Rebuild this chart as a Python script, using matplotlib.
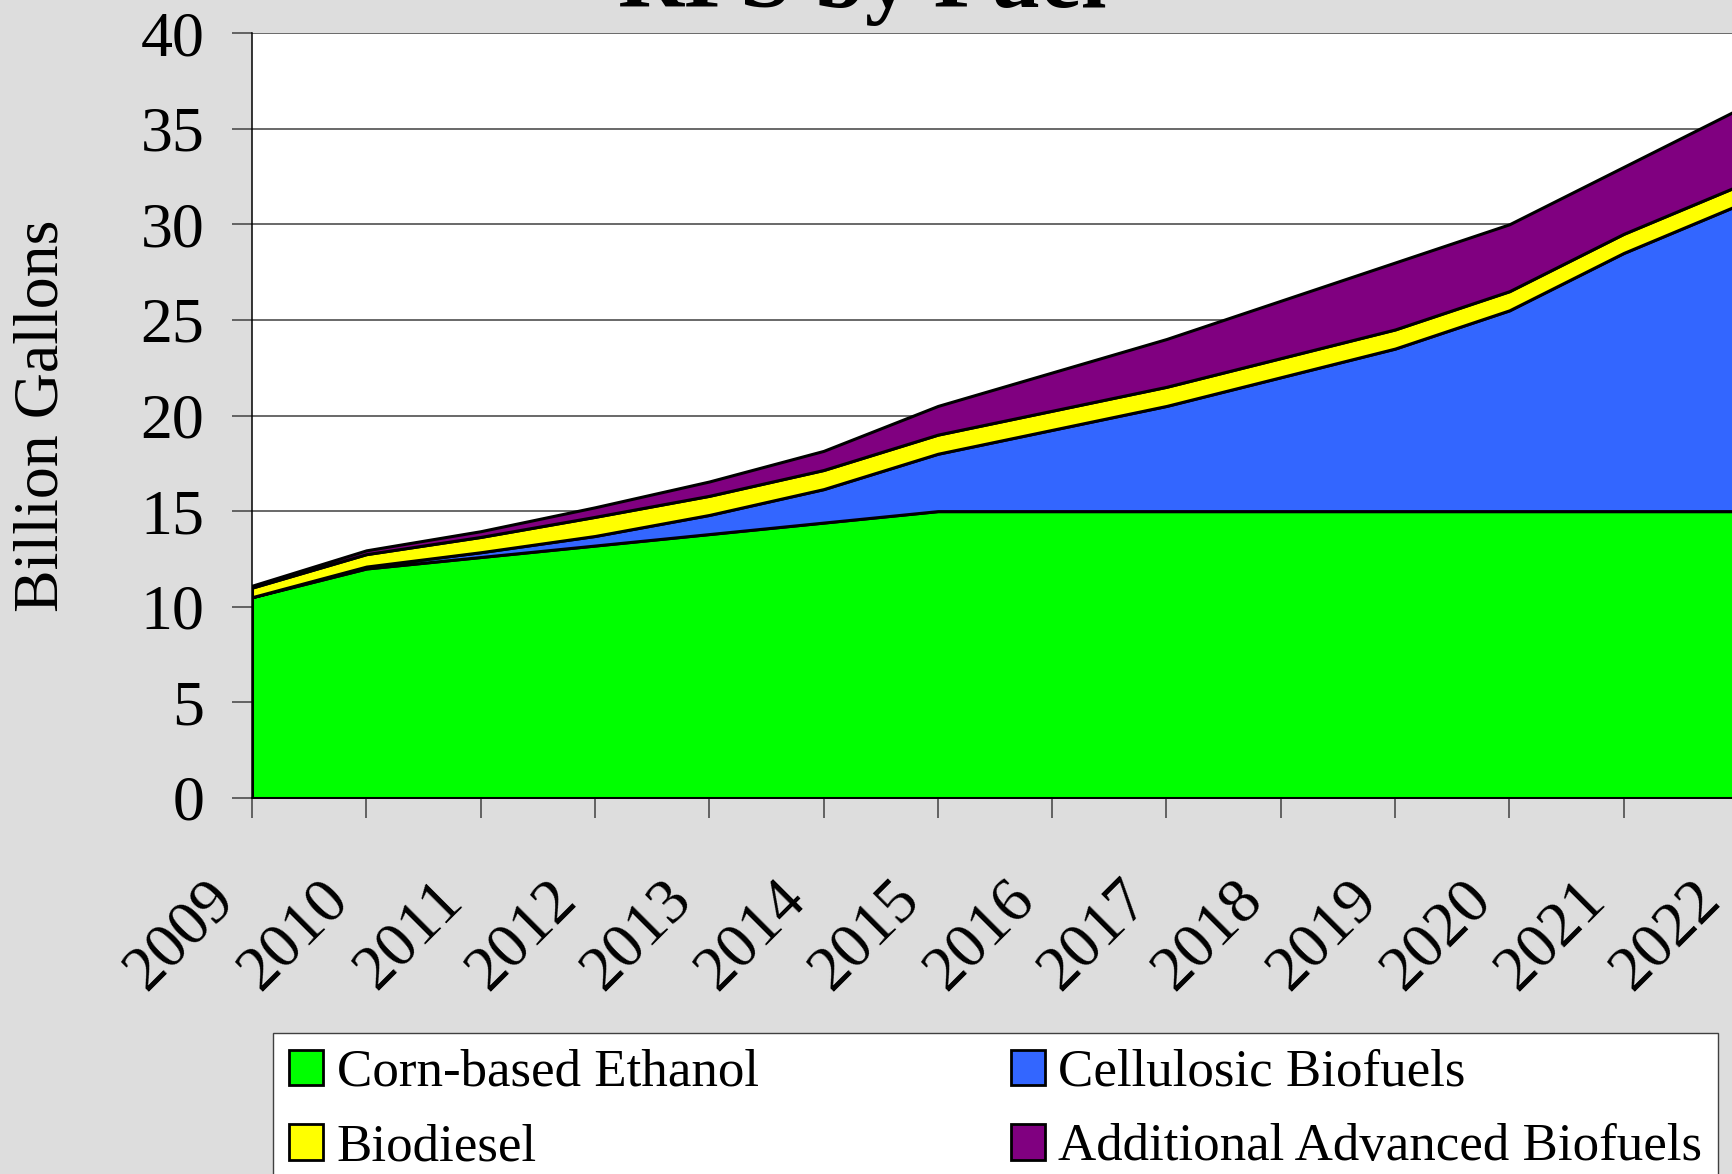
import matplotlib
matplotlib.use('Agg')
import matplotlib.pyplot as plt
import matplotlib.transforms as mtransforms
from matplotlib.patches import Patch

plt.rcParams['font.family'] = ['Liberation Serif', 'DejaVu Serif']

years = [2009, 2010, 2011, 2012, 2013, 2014, 2015, 2016, 2017, 2018, 2019, 2020, 2021, 2022]
corn_ethanol = [10.5, 12.0, 12.6, 13.2, 13.8, 14.4, 15.0, 15.0, 15.0, 15.0, 15.0, 15.0, 15.0, 15.0]
cellulosic = [0.0, 0.1, 0.25, 0.5, 1.0, 1.75, 3.0, 4.25, 5.5, 7.0, 8.5, 10.5, 13.5, 16.0]
biodiesel = [0.5, 0.65, 0.8, 1.0, 1.0, 1.0, 1.0, 1.0, 1.0, 1.0, 1.0, 1.0, 1.0, 1.0]
other_advanced = [0.1, 0.2, 0.3, 0.5, 0.75, 1.0, 1.5, 2.0, 2.5, 3.0, 3.5, 3.5, 3.5, 4.0]

labels = ['Corn-based Ethanol', 'Cellulosic Biofuels', 'Biodiesel', 'Additional Advanced Biofuels']
colors = ['#00FF00', '#3366FF', '#FFFF00', '#800080']

W, H = 1733, 1174
fig = plt.figure(figsize=(W / 100, H / 100), dpi=100, facecolor='#DDDDDD')
# plot area runs a little past the right edge, like the cropped original
ax = fig.add_axes([252 / W, 1 - 798 / H, (1738 - 252) / W, (798 - 33) / H])
ax.set_facecolor('white')

ax.stackplot(years, corn_ethanol, cellulosic, biodiesel, other_advanced,
             colors=colors, edgecolor='black', linewidth=2.2, zorder=3)

ax.set_xlim(2009, 2022)
ax.set_ylim(0, 40)
ax.set_yticks(range(0, 41, 5))
ax.set_xticks(years)
ax.set_xticklabels([str(y) for y in years])

ax.grid(axis='y', color='#404040', linewidth=1.1, zorder=0)
ax.set_axisbelow(True)
for s in ['top', 'right']:
    ax.spines[s].set_visible(False)
for s in ['left', 'bottom']:
    ax.spines[s].set_color('black')
    ax.spines[s].set_linewidth(1.1)
    ax.spines[s].set_zorder(5)

ax.tick_params(axis='y', length=14.4, width=1.1, color='#404040', labelsize=46, pad=20)
ax.tick_params(axis='x', length=14.4, width=1.1, color='#404040', labelsize=46, pad=52.6)

shift = mtransforms.ScaledTranslation(-27 / 100, 0, fig.dpi_scale_trans)
for lab in ax.get_xticklabels():
    lab.set_rotation(45)
    lab.set_ha('right')
    lab.set_va('center')
    lab.set_rotation_mode('anchor')
    lab.set_transform(lab.get_transform() + shift)

fig.text(43 / W, 1 - 416 / H, 'Billion Gallons', rotation=90, fontsize=46,
         ha='center', va='center')
fig.text(862 / W, 1 - 7 / H, 'RFS by Fuel', fontsize=66, fontweight='bold',
         ha='center', va='baseline')

handles = [Patch(facecolor=c, edgecolor='black', linewidth=2) for c in colors]
# column-major order so the rows read Corn / Cellulosic, Biodiesel / Additional
order = [0, 2, 1, 3]
leg = fig.legend([handles[i] for i in order], [labels[i] for i in order],
                 ncol=2, loc='upper left', bbox_to_anchor=(273 / W, 1 - 1033 / H),
                 bbox_transform=fig.transFigure, fontsize=38.2, frameon=True,
                 fancybox=False, framealpha=1, facecolor='white', edgecolor='#404040',
                 borderpad=0.3, borderaxespad=0, handlelength=0.65, handleheight=0.65,
                 handletextpad=0.25, columnspacing=4.75, labelspacing=0.5)
leg.get_frame().set_linewidth(1.0)

fig.savefig('out.png', dpi=100, facecolor=fig.get_facecolor())
